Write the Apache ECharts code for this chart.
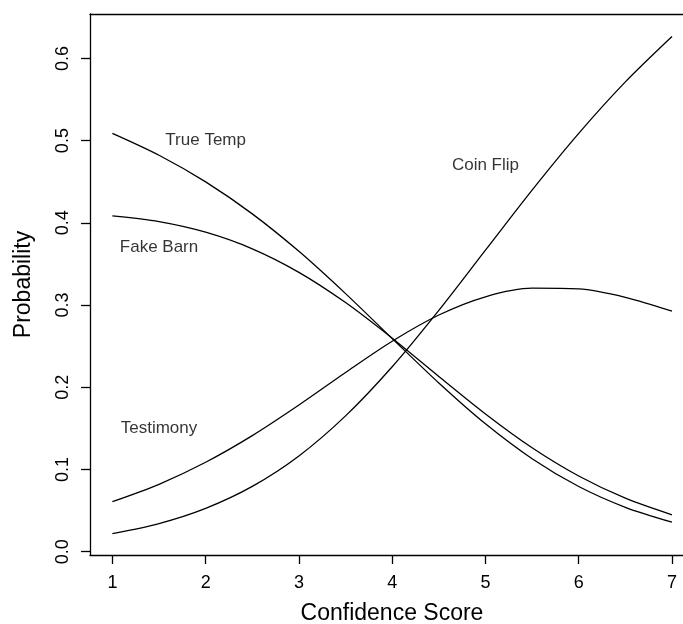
<!DOCTYPE html>
<html>
<head>
<meta charset="utf-8">
<script src="https://cdn.jsdelivr.net/npm/echarts@6/dist/echarts.min.js"></script>
<style>
html, body { margin: 0; padding: 0; background: #fff; }
#chart { width: 683px; height: 624px; }
</style>
</head>
<body>
<div id="chart"></div>
<script>
// Confidence scores (x)
const xs = [1, 1.5, 2, 2.5, 3, 3.5, 4, 4.5, 5, 5.5, 6, 6.5, 7];
// Probability curves
const trueTemp  = [0.5088, 0.4822, 0.4498, 0.4109, 0.3653, 0.3139, 0.2593, 0.2052, 0.1555, 0.1131, 0.0793, 0.0540, 0.0359];
const fakeBarn  = [0.4084, 0.4015, 0.3886, 0.3684, 0.3398, 0.3030, 0.2597, 0.2132, 0.1676, 0.1265, 0.0921, 0.0651, 0.0449];
const testimony = [0.0609, 0.0820, 0.1088, 0.1412, 0.1784, 0.2180, 0.2560, 0.2879, 0.3101, 0.3205, 0.3196, 0.3094, 0.2925];
const coinFlip  = [0.0220, 0.0343, 0.0528, 0.0795, 0.1165, 0.1652, 0.2250, 0.2936, 0.3668, 0.4399, 0.5089, 0.5715, 0.6267];
// Tick labels
const xTicks = [1, 2, 3, 4, 5, 6, 7];
const yTicks = [0, 0.1, 0.2, 0.3, 0.4, 0.5, 0.6];
// In-plot text labels
const labelTexts = ['True Temp', 'Fake Barn', 'Testimony', 'Coin Flip'];
const labelX = [2, 1.5, 1.5, 5];
const labelY = [0.5, 0.37, 0.15, 0.47];

const FONT = 'Liberation Sans, Arial, Helvetica, sans-serif';
const chart = echarts.init(document.getElementById('chart'), null, { renderer: 'canvas' });

const X_MIN = 0.76, X_MAX = 7.118;
const Y_MIN = -0.004, Y_MAX = 0.654;
const LINE = { color: '#000', width: 1.3 };

function lineSeries(name, vals) {
  return {
    name: name,
    type: 'line',
    data: xs.map((x, i) => [x, vals[i]]),
    smooth: 0.3,
    showSymbol: false,
    symbol: 'none',
    lineStyle: { color: '#000', width: 1.3 },
    silent: true,
    z: 3
  };
}

const option = {
  animation: false,
  backgroundColor: '#fff',
  grid: {
    left: 90, top: 14, right: 0, bottom: 69,
    outerBoundsMode: 'none',
    containLabel: false,
    show: false
  },
  xAxis: [{
    type: 'value',
    position: 'bottom',
    min: X_MIN, max: X_MAX,
    name: 'Confidence Score',
    nameLocation: 'middle',
    nameGap: 47,
    nameTextStyle: { fontFamily: FONT, fontSize: 23, color: '#000', padding: [0, 0, 0, 11] },
    axisLine: { show: true, onZero: false, lineStyle: LINE },
    splitLine: { show: false },
    axisTick: {
      show: true, inside: false, length: 9,
      customValues: xTicks,
      lineStyle: LINE
    },
    axisLabel: {
      customValues: xTicks,
      margin: 19,
      fontFamily: FONT, fontSize: 18, color: '#000',
      formatter: v => String(v)
    }
  }, {
    type: 'value',
    position: 'top',
    min: X_MIN, max: X_MAX,
    axisLine: { show: true, onZero: false, lineStyle: LINE },
    axisTick: { show: false },
    axisLabel: { show: false },
    splitLine: { show: false }
  }],
  yAxis: {
    type: 'value',
    min: Y_MIN, max: Y_MAX,
    name: 'Probability',
    nameLocation: 'middle',
    nameGap: 55,
    nameTextStyle: { fontFamily: FONT, fontSize: 23, color: '#000' },
    axisLine: { show: true, onZero: false, lineStyle: LINE },
    splitLine: { show: false },
    axisTick: {
      show: true, inside: false, length: 9,
      customValues: yTicks,
      lineStyle: LINE
    },
    axisLabel: {
      customValues: yTicks,
      rotate: 90,
      margin: 18,
      fontFamily: FONT, fontSize: 18, color: '#000',
      formatter: v => Number(v).toFixed(1)
    }
  },
  series: [
    lineSeries('True Temp', trueTemp),
    lineSeries('Fake Barn', fakeBarn),
    lineSeries('Testimony', testimony),
    lineSeries('Coin Flip', coinFlip),
    {
      type: 'scatter',
      data: labelTexts.map((t, i) => [labelX[i], labelY[i], t]),
      symbolSize: 0,
      silent: true,
      label: {
        show: true,
        position: 'inside',
        formatter: p => p.data[2],
        fontFamily: FONT, fontSize: 17, color: '#000'
      },
      z: 4
    }
  ]
};
chart.setOption(option);
</script>
</body>
</html>
